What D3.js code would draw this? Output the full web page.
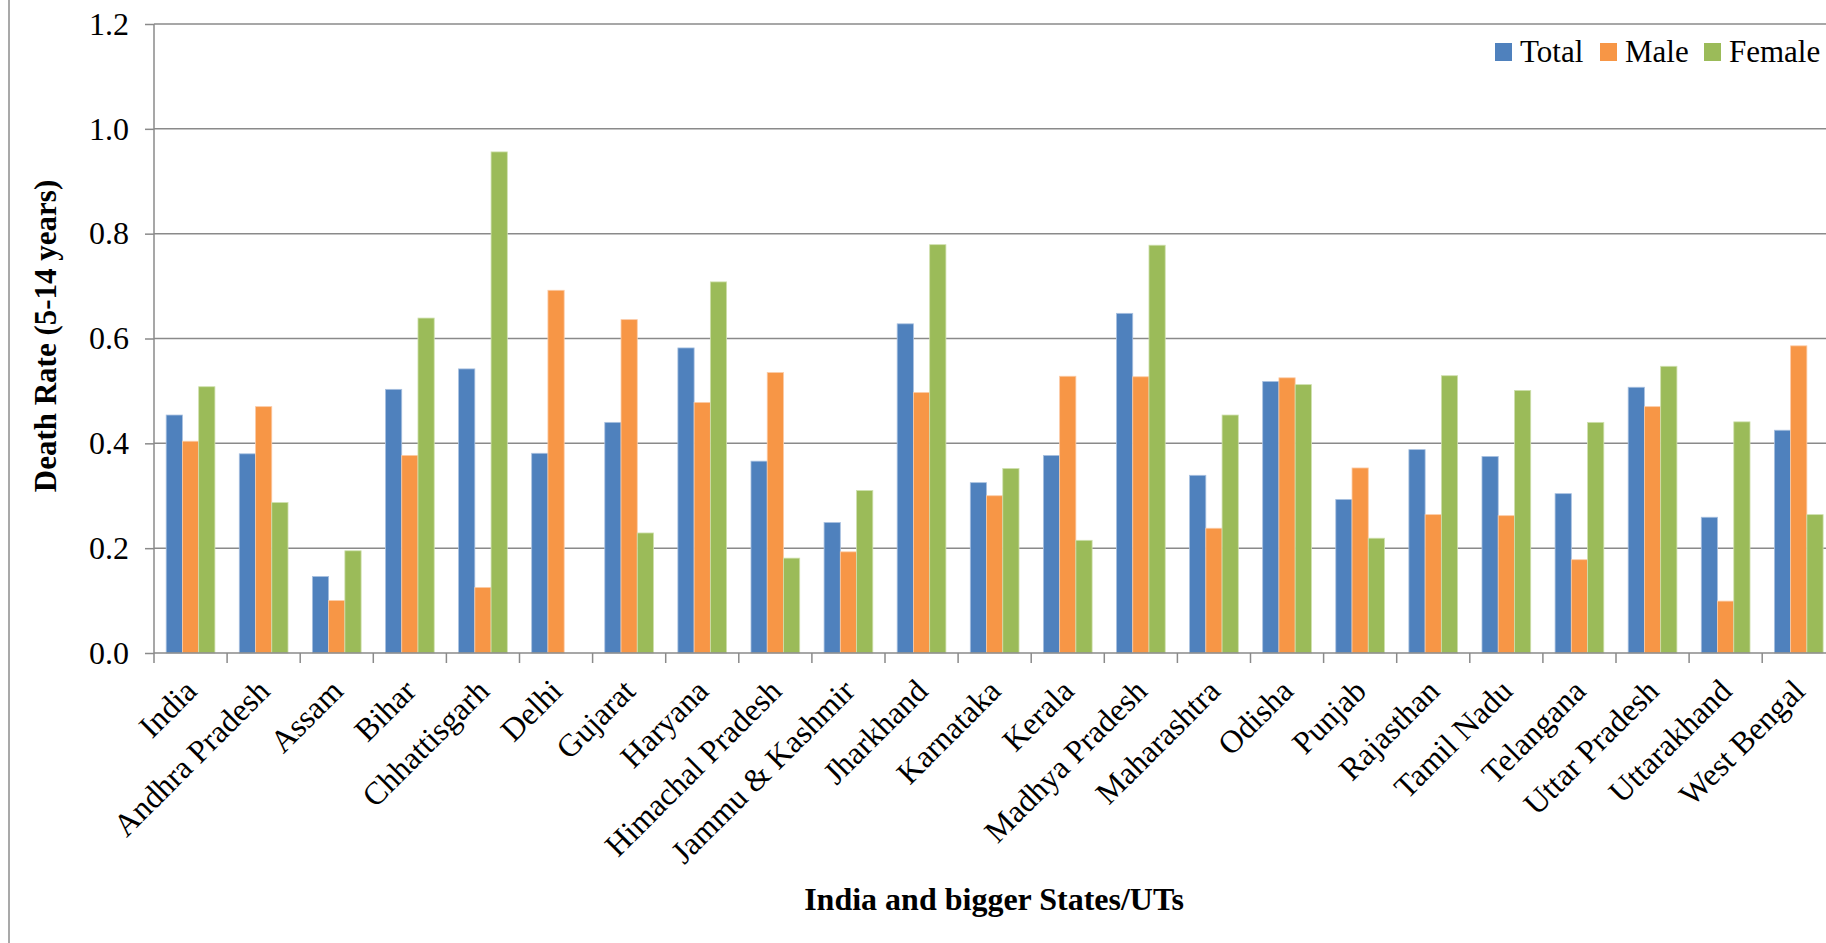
<!DOCTYPE html>
<html>
<head>
<meta charset="utf-8">
<script src="https://cdn.jsdelivr.net/npm/d3@7/dist/d3.min.js"></script>
<style>
  html, body { margin: 0; padding: 0; background: #fff; overflow: hidden; }
  svg { display: block; }
  text { font-family: "Liberation Serif", "Times New Roman", serif; fill: #000; }
</style>
</head>
<body>
<svg id="chart" width="1826" height="943"></svg>
<script>
const categories = ["India","Andhra Pradesh","Assam","Bihar","Chhattisgarh","Delhi","Gujarat","Haryana","Himachal Pradesh","Jammu & Kashmir","Jharkhand","Karnataka","Kerala","Madhya Pradesh","Maharashtra","Odisha","Punjab","Rajasthan","Tamil Nadu","Telangana","Uttar Pradesh","Uttarakhand","West Bengal"];
const seriesNames = ["Total","Male","Female"];
const totalValues  = [0.454,0.380,0.146,0.503,0.542,0.381,0.440,0.582,0.366,0.249,0.628,0.325,0.377,0.648,0.339,0.518,0.293,0.388,0.375,0.304,0.507,0.259,0.425];
const maleValues   = [0.404,0.470,0.100,0.377,0.125,0.692,0.636,0.478,0.535,0.193,0.497,0.300,0.528,0.527,0.238,0.525,0.353,0.264,0.262,0.178,0.470,0.099,0.586];
const femaleValues = [0.508,0.287,0.195,0.639,0.956,0.000,0.229,0.708,0.181,0.310,0.779,0.352,0.215,0.778,0.454,0.512,0.219,0.529,0.501,0.440,0.547,0.441,0.264];
const yTicks = [0.0,0.2,0.4,0.6,0.8,1.0,1.2];
const colors = ["#4F81BD","#F79646","#9BBB59"];
const strokes = ["#a9c1e0","#fbcba6","#cfe0ae"];

(function () {
const seriesValues = [totalValues, maleValues, femaleValues];
const rows = categories.map((c, i) => ({cat: c, vals: seriesNames.map((s, j) => ({name: s, j, v: seriesValues[j][i]}))}));

const svg = d3.select("#chart");
const pLeft = 154, pRight = 1835.3, pTop = 24, pBottom = 653;

const x0 = d3.scaleBand().domain(categories).range([pLeft, pRight]).paddingInner(1/3).paddingOuter(1/6);
const x1 = d3.scaleBand().domain(seriesNames).range([0, x0.bandwidth()]);
const y = d3.scaleLinear().domain([0, 1.2]).range([pBottom, pTop]);
const gapHalf = (x0.step() - x0.bandwidth()) / 2;

// left chart border
svg.append("line").attr("x1", 9).attr("x2", 9).attr("y1", 0).attr("y2", 943)
  .attr("stroke", "#8c8c8c").attr("stroke-width", 1.5);

// gridlines
svg.append("g").selectAll("line").data(yTicks.filter(t => t > 0)).join("line")
  .attr("x1", pLeft).attr("x2", pRight).attr("y1", d => y(d)).attr("y2", d => y(d))
  .attr("stroke", "#8a8a8a").attr("stroke-width", 1.5);

// bars
const g = svg.append("g");
g.selectAll("g").data(rows).join("g")
  .attr("transform", d => `translate(${x0(d.cat)},0)`)
  .selectAll("rect").data(d => d.vals.filter(v => v.v > 0)).join("rect")
  .attr("x", d => x1(d.name)).attr("width", x1.bandwidth())
  .attr("y", d => y(d.v)).attr("height", d => y(0) - y(d.v))
  .attr("fill", d => colors[d.j]).attr("stroke", d => strokes[d.j]).attr("stroke-width", 0.8);

// y axis
const yAxis = d3.axisLeft(y).tickValues(yTicks).tickFormat(d3.format(".1f")).tickSize(9).tickPadding(16);
const ya = svg.append("g").attr("transform", `translate(${pLeft},0)`).call(yAxis);
ya.select(".domain").attr("stroke", "#8a8a8a").attr("stroke-width", 1.5).attr("d", `M0,${pTop}V${pBottom}`);
ya.selectAll(".tick line").attr("stroke", "#8a8a8a").attr("stroke-width", 1.5);
ya.selectAll(".tick text").attr("font-size", 32).attr("font-family", "Liberation Serif").attr("fill", "#000");

// x axis line and ticks
svg.append("line").attr("x1", pLeft).attr("x2", pRight).attr("y1", pBottom).attr("y2", pBottom)
  .attr("stroke", "#8a8a8a").attr("stroke-width", 1.5);
const boundaries = categories.map(c => x0(c) - gapHalf).concat([x0(categories[categories.length-1]) + x0.bandwidth() + gapHalf]);
svg.append("g").selectAll("line").data(boundaries).join("line")
  .attr("x1", d => d).attr("x2", d => d).attr("y1", pBottom).attr("y2", pBottom + 10)
  .attr("stroke", "#8a8a8a").attr("stroke-width", 1.5);

// category labels
svg.append("g").selectAll("text").data(categories).join("text")
  .attr("transform", d => `translate(${x0(d) + x0.bandwidth()/2 + 8},${pBottom + 40}) rotate(-45)`)
  .attr("text-anchor", "end").attr("font-size", 32).text(d => d);

// axis titles
svg.append("text").attr("x", 994).attr("y", 910).attr("text-anchor", "middle")
  .attr("font-size", 32).attr("font-weight", "bold").text("India and bigger States/UTs");
svg.append("text").attr("transform", `translate(56,336) rotate(-90)`).attr("text-anchor", "middle")
  .attr("font-size", 31).attr("font-weight", "bold").text("Death Rate (5-14 years)");

// legend
const legendX = [1495, 1600, 1704];
const lg = svg.append("g").selectAll("g").data(seriesNames).join("g")
  .attr("transform", (d, i) => `translate(${legendX[i]},43)`);
lg.append("rect").attr("width", 17).attr("height", 18).attr("fill", (d, i) => colors[i]);
lg.append("text").attr("x", 25).attr("y", 19).attr("font-size", 31).text(d => d);
})();
</script>
</body>
</html>
